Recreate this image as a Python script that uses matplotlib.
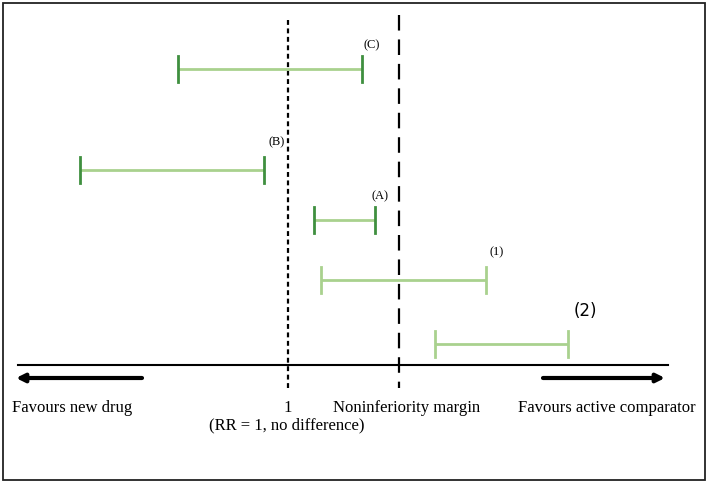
import matplotlib
matplotlib.use("Agg")
import matplotlib.pyplot as plt
from matplotlib.patches import Rectangle

plt.rcParams['font.family'] = ['Liberation Serif', 'DejaVu Serif']

# Confidence intervals (horizontal positions on the drawing scale)
labels = ["(C)", "(B)", "(A)", "(1)", "(2)"]
lower = [178, 80, 314, 321, 435]
upper = [362, 264, 375, 486, 568]
rows = [69, 170, 220, 280, 344]
cap_colors = ["#3f8f3f", "#3f8f3f", "#3f8f3f", "#a9d18e", "#a9d18e"]
line_color = "#a9d18e"

no_diff = 288
margin = 399
axis_y = 365

fig = plt.figure(figsize=(7.09, 4.83), dpi=100)
ax = fig.add_axes([0, 0, 1, 1])
ax.set_xlim(0, 709)
ax.set_ylim(483, 0)
ax.axis('off')

# border
ax.add_patch(Rectangle((3, 3), 702, 477, fill=False, ec='#222222', lw=1.3))

# reference lines
ax.plot([no_diff, no_diff], [20, 388], color='black', lw=1.6, ls=(0, (2.2, 1.6)))
ax.plot([margin, margin], [15, 388], color='black', lw=1.6, ls=(0, (7, 4)))

# axis line
ax.plot([18, 668], [axis_y, axis_y], color='black', lw=1.5)

# arrows
ax.annotate("", xy=(16, 378), xytext=(142, 378),
            arrowprops=dict(arrowstyle='-|>', color='black', lw=3,
                            mutation_scale=12, shrinkA=0, shrinkB=0))
ax.annotate("", xy=(665, 378), xytext=(543, 378),
            arrowprops=dict(arrowstyle='-|>', color='black', lw=3,
                            mutation_scale=12, shrinkA=0, shrinkB=0))

# intervals
for lo, hi, r, cc in zip(lower, upper, rows, cap_colors):
    ax.plot([lo, hi], [r, r], color=line_color, lw=2, solid_capstyle='butt')
    ax.plot([lo, lo], [r - 13, r + 13], color=cc, lw=2)
    ax.plot([hi, hi], [r - 13, r + 13], color=cc, lw=2)

ax.text(372, 45, labels[0], fontsize=9, ha='center', va='center')
ax.text(277, 142, labels[1], fontsize=9, ha='center', va='center')
ax.text(380, 196, labels[2], fontsize=9, ha='center', va='center')
ax.text(497, 252, labels[3], fontsize=9, ha='center', va='center')
ax.text(585, 311, labels[4], fontsize=12, ha='center', va='center', family=['DejaVu Sans'])

# bottom texts
ax.text(12, 408, "Favours new drug", fontsize=12, ha='left', va='center')
ax.text(288, 408, "1", fontsize=12, ha='center', va='center')
ax.text(407, 408, "Noninferiority margin", fontsize=12, ha='center', va='center')
ax.text(696, 408, "Favours active comparator", fontsize=12, ha='right', va='center')
ax.text(287, 425, "(RR = 1, no difference)", fontsize=12, ha='center', va='center')

fig.savefig("out.png", dpi=100)
